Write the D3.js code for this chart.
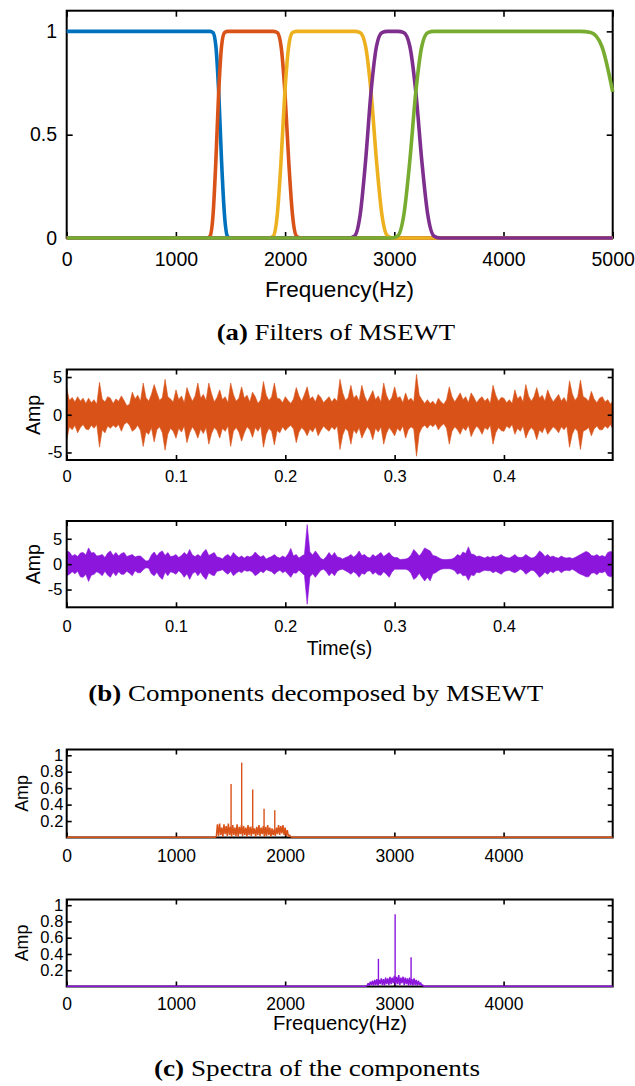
<!DOCTYPE html>
<html>
<head>
<meta charset="utf-8">
<script src="https://cdnjs.cloudflare.com/ajax/libs/d3/7.8.5/d3.min.js"></script>
<style>
body{margin:0;background:#fff;}
svg{display:block;}
.tick text{font-family:"Liberation Sans",Arial,Helvetica,sans-serif;fill:#000;}
.tick line{stroke:#000;stroke-width:1.6;}
.axlabel{font-family:"Liberation Sans",Arial,Helvetica,sans-serif;fill:#000;}
.caption{font-family:"Liberation Serif","Times New Roman",serif;fill:#000;}
</style>
</head>
<body>
<script>
//----- data -----

//tick values
var freqTicks = [0, 1000, 2000, 3000, 4000, 5000];
var filterYTicks = [0, 0.5, 1];
var timeTicks = [0, 0.1, 0.2, 0.3, 0.4];
var ampTicks = [-5, 0, 5];
var specYTicks = [0.2, 0.4, 0.6, 0.8, 1];

//filter colours (a)
var filterColors = ["#0072BD", "#D95319", "#EDB120", "#7E2F8E", "#77AC30"];

//filters of MSEWT, [frequency Hz, magnitude]
var filter1 = [[0,1],[1287,1],[1313,1],[1340,0.994],[1366,0.928],[1392,0.707],[1418,0.373],[1445,0.111],[1471,0.01],[1497,0],[5000,0]];
var filter2 = [[0,0],[1287,0],[1313,0.01],[1340,0.111],[1366,0.373],[1392,0.707],[1418,0.928],[1445,0.994],[1471,1],[1497,1],
               [1858,1],[1893,1],[1928,0.994],[1963,0.928],[1998,0.707],[2033,0.373],[2068,0.111],[2103,0.01],[2138,0],[5000,0]];
var filter3 = [[0,0],[1858,0],[1893,0.01],[1928,0.111],[1963,0.373],[1998,0.707],[2033,0.928],[2068,0.994],[2103,1],[2138,1],
               [2587,1],[2637,1],[2687,0.994],[2737,0.928],[2787,0.707],[2837,0.373],[2887,0.111],[2937,0.01],[2987,0],[5000,0]];
var filter4 = [[0,0],[2587,0],[2637,0.01],[2687,0.111],[2737,0.373],[2787,0.707],[2837,0.928],[2887,0.994],[2937,1],
               [2977,1],[3032,1],[3087,0.994],[3142,0.928],[3197,0.707],[3252,0.373],[3307,0.111],[3362,0.01],[3417,0],[5000,0]];
var filter5 = [[0,0],[2977,0],[3032,0.01],[3087,0.111],[3142,0.373],[3197,0.707],[3252,0.928],[3307,0.994],[3362,1],[3417,1],
               [4600,1],[4700,1],[4800,0.994],[4900,0.928],[5000,0.707]];

//components (b): upper / lower envelope, one value every 2.5 ms
var timeStep = 0.0025;
var comp1Upper = [3.5,1.9,2.3,1.7, 2.4,1.8,2.2,1.5, 2.2,1.6,2.0,1.4, 4.3,2.1,1.7,2.4, 2.2,1.5,2.1,1.8,
  2.5,1.9,1.2,1.4, 3.0,2.1,2.6,1.8, 4.2,2.3,1.8,2.7, 4.0,2.9,1.9,2.3, 4.7,2.4,2.1,1.7,
  3.3,2.0,2.5,1.6, 3.6,2.6,1.8,2.5, 4.2,2.2,2.7,1.9, 4.2,2.8,1.7,2.3, 3.3,2.0,2.4,1.6,
  4.2,2.7,1.8,2.2, 3.7,2.2,2.6,1.7, 3.0,2.4,1.5,2.0, 4.4,2.6,1.9,2.4, 4.2,2.2,2.1,1.6,
  2.4,1.9,1.5,2.1, 3.6,2.5,1.8,2.7, 3.7,2.1,2.4,1.7, 2.7,2.3,1.6,2.0, 2.4,1.7,2.2,1.8,
  4.7,2.9,1.9,2.3, 3.9,2.2,2.6,1.8, 3.9,2.5,1.7,2.4, 3.2,2.0,2.5,1.7, 4.2,2.6,1.8,2.3,
  3.7,2.2,2.4,1.6, 2.9,1.9,2.2,1.7, 5.35,2.6,2.0,1.5, 2.0,1.5,1.8,1.3, 2.2,1.7,1.4,2.0,
  3.7,2.4,1.7,2.3, 2.9,2.0,2.4,1.6, 2.9,2.3,1.6,2.1, 2.4,1.8,2.2,1.5, 3.9,2.6,1.8,2.3,
  2.2,1.6,2.0,1.5, 3.3,2.1,2.5,1.7, 4.0,2.5,1.8,2.4, 3.6,2.2,2.6,1.8, 3.3,2.4,1.7,2.2,
  2.7,1.8,2.3,1.6, 4.5,2.8,1.9,2.4, 4.6,2.4,2.2,1.8, 3.1,2.1,1.6,2.2, 2.4,1.7,2.0,1.4, 1.9];
var comp1Lower = [-3.3,-1.6,-2.0,-1.4, -2.4,-1.7,-1.3,-1.9, -2.0,-1.4,-1.8,-1.3, -4.3,-2.0,-2.4,-1.5, -1.8,-1.4,-1.7,-1.3,
  -2.2,-1.3,-1.0,-1.4, -2.2,-1.9,-1.4,-2.1, -4.2,-2.3,-2.6,-1.7, -3.6,-2.0,-1.6,-2.4, -4.7,-2.6,-1.8,-2.2,
  -3.1,-1.8,-2.3,-1.5, -3.7,-2.4,-1.6,-2.2, -3.1,-1.9,-2.5,-1.7, -3.9,-2.5,-1.7,-2.1, -3.1,-1.8,-2.2,-1.5,
  -4.2,-2.2,-1.7,-2.3, -3.5,-2.4,-1.6,-2.0, -3.0,-1.7,-2.2,-1.5, -4.3,-2.6,-1.8,-2.2, -4.0,-2.1,-2.4,-1.6,
  -2.1,-1.7,-1.4,-1.9, -3.7,-2.3,-1.7,-2.1, -2.8,-1.9,-2.3,-1.6, -2.8,-2.1,-1.5,-1.9, -2.2,-1.6,-2.0,-1.5,
  -4.6,-2.7,-1.8,-2.2, -3.9,-2.0,-2.5,-1.7, -3.1,-2.3,-1.6,-2.1, -3.3,-1.8,-2.3,-1.6, -3.9,-2.5,-1.7,-2.2,
  -2.8,-1.8,-2.2,-1.5, -3.1,-2.0,-1.6,-1.9, -5.5,-2.5,-1.7,-1.4, -1.8,-1.3,-1.6,-1.2, -2.0,-1.5,-1.2,-1.8,
  -3.9,-2.2,-1.6,-2.0, -2.6,-1.7,-2.1,-1.4, -2.9,-2.1,-1.5,-1.9, -2.6,-1.7,-2.0,-1.4, -3.9,-2.4,-1.7,-2.1,
  -2.2,-1.5,-1.8,-1.3, -2.6,-1.8,-2.2,-1.5, -3.1,-2.2,-1.7,-2.1, -3.3,-2.0,-2.4,-1.6, -2.6,-2.1,-1.6,-1.9,
  -2.4,-1.6,-2.0,-1.5, -4.3,-2.6,-1.8,-2.2, -4.6,-2.2,-2.0,-1.7, -2.8,-1.9,-1.5,-2.0, -2.0,-1.5,-1.8,-1.3, -2.0];
var comp2Upper = [2.6,2.4,1.6,1.9,1.5,2.2,2.3,1.8,3.2,2.2, 2.3,1.6,1.7,1.9,1.3,2.2,2.6,1.7,2.3,1.6,
  2.1,2.3,1.5,1.7,1.9,1.4,1.6,1.6,1.1,0.6, 0.7,1.8,2.4,1.6,2.3,2.6,1.7,2.3,1.5,1.6,
  1.9,1.3,1.7,2.3,1.8,2.9,1.8,1.5,1.9,1.5, 2.4,2.9,1.7,2.0,2.3,1.4,1.3,1.0,1.6,1.9,
  1.4,2.3,1.7,1.3,1.6,1.2,1.6,1.4,1.7,2.4, 1.8,1.4,1.7,1.0,1.3,1.5,1.9,1.4,1.2,1.6,
  1.3,2.0,3.1,1.6,1.9,1.2,1.6,1.9,7.8,2.4, 1.8,2.6,1.9,1.1,0.9,1.5,2.3,1.6,2.3,1.4,
  1.3,1.0,1.3,1.5,1.9,1.4,1.8,2.6,1.7,1.9, 1.4,1.2,1.9,1.5,1.9,2.3,1.5,1.9,2.3,1.6,
  1.3,1.3,0.9,0.95,1.0,1.2,1.8,2.9,2.3,1.6, 2.3,3.2,2.9,2.6,1.7,1.6,1.3,1.0,0.9,0.9,
  0.95,1.0,1.3,1.9,1.6,2.4,2.1,3.4,2.0,1.9, 1.5,1.6,1.4,1.2,1.5,1.3,1.6,1.4,1.6,1.9,
  1.5,1.3,1.2,1.5,1.9,1.4,1.3,1.4,1.9,1.5, 1.2,1.3,1.8,2.6,2.2,1.5,1.9,1.4,1.6,1.3,
  1.2,1.6,1.3,1.2,1.3,1.1,1.3,1.6,1.9,2.2, 2.5,2.3,1.7,1.6,1.9,1.5,1.7,1.4,2.3,2.5, 2.4];
var comp2Lower = [-2.3,-2.0,-1.5,-1.9,-1.4,-2.5,-2.6,-2.0,-3.4,-2.2, -2.0,-1.5,-1.8,-2.3,-1.4,-2.2,-2.6,-1.6,-2.3,-1.5,
  -2.0,-2.0,-1.4,-1.8,-2.3,-1.3,-1.7,-1.7,-1.1,-0.7, -0.8,-1.9,-2.3,-1.6,-2.5,-3.0,-1.6,-2.3,-1.5,-1.7,
  -2.0,-1.3,-1.8,-2.6,-1.9,-3.0,-1.9,-1.5,-2.3,-1.6, -2.5,-3.0,-1.7,-2.1,-2.3,-1.4,-1.3,-1.1,-1.6,-2.0,
  -1.4,-2.3,-1.8,-1.4,-1.7,-1.2,-1.4,-1.3,-1.6,-2.3, -1.9,-1.4,-1.7,-1.1,-1.3,-1.5,-2.0,-1.5,-1.2,-1.7,
  -1.4,-2.0,-2.6,-1.7,-1.8,-1.2,-1.7,-2.2,-7.9,-2.5, -1.9,-2.6,-1.9,-1.2,-1.0,-1.5,-2.3,-1.7,-2.3,-1.4,
  -1.1,-1.0,-1.3,-1.6,-2.0,-1.5,-1.9,-2.6,-1.8,-2.0, -1.4,-1.3,-2.0,-1.6,-2.1,-2.2,-1.5,-2.0,-2.6,-1.6,
  -1.0,-1.0,-1.0,-1.0,-1.0,-1.2,-1.8,-3.0,-2.6,-1.8, -2.6,-3.3,-2.6,-3.3,-1.9,-1.7,-1.3,-1.0,-0.9,-0.9,
  -0.9,-1.0,-1.3,-2.0,-1.7,-2.3,-2.2,-3.2,-2.1,-2.3, -1.6,-1.7,-1.4,-1.2,-1.3,-1.3,-1.7,-1.4,-1.7,-2.0,
  -1.5,-1.3,-1.2,-1.5,-1.7,-1.4,-1.0,-1.3,-2.0,-1.6, -1.2,-1.3,-1.9,-2.6,-2.2,-1.6,-2.0,-1.4,-1.7,-1.3,
  -1.2,-1.7,-1.3,-1.2,-1.3,-1.0,-1.3,-1.7,-2.0,-2.2, -2.5,-2.5,-1.8,-1.7,-2.1,-1.6,-1.7,-1.4,-2.3,-2.5, -2.4];

//spectra (c): band samples every 10 Hz plus the discrete lines
var freqStep = 10;
var spec1Start = 1360;
var spec1Band = [0.00,0.01,0.16,0.02,0.17,0.03,0.12,0.01,0.16,0.04, 0.14,0.02,0.17,0.03,0.13,0.01,0.15,0.03,0.12,0.02,
  0.16,0.01,0.13,0.04,0.15,0.02,0.14,0.03,0.12,0.01, 0.15,0.03,0.13,0.02,0.14,0.04,0.11,0.01,0.13,0.03,
  0.15,0.02,0.12,0.04,0.14,0.01,0.13,0.02,0.15,0.03, 0.12,0.01,0.11,0.03,0.10,0.02,0.12,0.04,0.15,0.03,
  0.14,0.05,0.15,0.03,0.12,0.02,0.09,0.01,0.03,0.01, 0.00];
var spec1PeakFreq = [1505, 1602, 1703, 1807, 1905];
var spec1PeakAmp = [0.65, 0.91, 0.585, 0.35, 0.33];
var spec2Start = 2740;
var spec2Band = [0.00,0.01,0.04,0.01,0.06,0.02,0.07,0.01,0.08,0.02, 0.09,0.01,0.08,0.03,0.10,0.02,0.09,0.01,0.11,0.03,
  0.10,0.02,0.12,0.03,0.11,0.04,0.13,0.02,0.12,0.03, 0.14,0.02,0.11,0.04,0.12,0.02,0.11,0.03,0.10,0.01,
  0.11,0.02,0.09,0.01,0.10,0.02,0.08,0.01,0.07,0.02, 0.05,0.01,0.02,0.00];
var spec2PeakFreq = [2854, 3007, 3153];
var spec2PeakAmp = [0.34, 0.89, 0.36];

var orange = "#D95319", violet = "#8C16DC";

//----- drawing -----
var width = 635, height = 1086;
var svg = d3.select("body").append("svg")
    .attr("width", width)
    .attr("height", height);

var left = 66.7, right = 612.7;

function fmt(d){ return String(d); }

//frame with inward ticks on all four sides
function addAxes(g, x, y, o){
    var x0 = x.range()[0], x1 = x.range()[1], y0 = y.range()[0], y1 = y.range()[1];
    g.append("g").attr("transform", "translate(0," + y0 + ")")
        .call(d3.axisBottom(x).tickValues(o.xTicks).tickFormat(fmt).tickSize(-o.tick).tickPadding(o.xPad))
        .call(function(s){ s.select(".domain").remove(); })
        .selectAll("text").style("font-size", o.font + "px");
    g.append("g").attr("transform", "translate(0," + y1 + ")")
        .call(d3.axisTop(x).tickValues(o.xTicks).tickFormat("").tickSize(-o.tick))
        .call(function(s){ s.select(".domain").remove(); });
    g.append("g").attr("transform", "translate(" + x0 + ",0)")
        .call(d3.axisLeft(y).tickValues(o.yTicks).tickFormat(fmt).tickSize(-o.tick).tickPadding(o.yPad))
        .call(function(s){ s.select(".domain").remove(); })
        .selectAll("text").style("font-size", (o.yFont || o.font) + "px");
    g.append("g").attr("transform", "translate(" + x1 + ",0)")
        .call(d3.axisRight(y).tickValues(o.yTicks).tickFormat("").tickSize(-o.tick))
        .call(function(s){ s.select(".domain").remove(); });
    g.append("rect")
        .attr("x", x0).attr("y", y1)
        .attr("width", x1 - x0).attr("height", y0 - y1)
        .attr("fill", "none").attr("stroke", "#000").attr("stroke-width", 2);
}

function clip(id, x, y){
    svg.append("clipPath").attr("id", id).append("rect")
        .attr("x", x.range()[0]).attr("y", y.range()[1] - 20)
        .attr("width", x.range()[1] - x.range()[0]).attr("height", y.range()[0] - y.range()[1] + 40);
}

function yLabel(text, xPos, yPos, size){
    svg.append("text").attr("class", "axlabel")
        .attr("transform", "translate(" + xPos + "," + yPos + ") rotate(-90)")
        .attr("text-anchor", "middle")
        .style("font-size", size + "px")
        .text(text);
}

function xLabel(text, xPos, yPos, size){
    svg.append("text").attr("class", "axlabel")
        .attr("x", xPos).attr("y", yPos)
        .attr("text-anchor", "middle")
        .style("font-size", size + "px")
        .text(text);
}

function caption(tag, rest, x0, yPos, len){
    var t = svg.append("text").attr("class", "caption")
        .attr("x", x0).attr("y", yPos)
        .attr("textLength", len).attr("lengthAdjust", "spacingAndGlyphs")
        .style("font-size", "24px");
    t.append("tspan").style("font-weight", "bold").text(tag);
    t.append("tspan").text(rest);
}

//(a) filters
var xA = d3.scaleLinear().domain([0, 5000]).range([left, right]);
var yA = d3.scaleLinear().domain([0, 1.1]).range([238, 10.7]);
var gA = svg.append("g");
addAxes(gA, xA, yA, {xTicks: freqTicks, yTicks: filterYTicks, tick: 6, xPad: 14, yPad: 9.7, font: 19.5});
var filterLine = d3.line()
    .x(function(d){ return xA(d[0]); })
    .y(function(d){ return yA(d[1]); })
    .curve(d3.curveMonotoneX);
gA.selectAll(".filter")
    .data([filter1, filter2, filter3, filter4, filter5])
    .enter()
    .append("path")
    .attr("class", "filter")
    .attr("d", filterLine)
    .attr("fill", "none")
    .attr("stroke", function(d, i){ return filterColors[i]; })
    .attr("stroke-width", 3.6)
    .attr("stroke-linejoin", "round");
xLabel("Frequency(Hz)", 339.5, 297, 22.5);
caption("(a)", " Filters of MSEWT", 216.7, 339.5, 238.5);

//(b) components
function drawComponent(upper, lower, top, bottom, domain, color, id){
    var x = d3.scaleLinear().domain([0, 0.4995]).range([left, right]);
    var y = d3.scaleLinear().domain(domain).range([bottom, top]);
    clip(id, x, y);
    var g = svg.append("g");
    var area = d3.area()
        .x(function(d, i){ return x(i * timeStep); })
        .y0(function(d, i){ return y(lower[i]); })
        .y1(function(d){ return y(d); });
    g.append("path")
        .datum(upper)
        .attr("clip-path", "url(#" + id + ")")
        .attr("d", area)
        .attr("fill", color)
        .attr("stroke", color)
        .attr("stroke-width", 0.6);
    return {g: g, x: x, y: y};
}
var b1 = drawComponent(comp1Upper, comp1Lower, 369.5, 460, [-6, 6], orange, "clipB1");
addAxes(b1.g, b1.x, b1.y, {xTicks: timeTicks, yTicks: ampTicks, tick: 5, xPad: 10, yPad: 4.4, font: 16.5});
yLabel("Amp", 39.5, 415, 19.5);

var b2 = drawComponent(comp2Upper, comp2Lower, 521, 607.3, [-8.5, 8.5], violet, "clipB2");
addAxes(b2.g, b2.x, b2.y, {xTicks: timeTicks, yTicks: ampTicks, tick: 5, xPad: 12.5, yPad: 4.4, font: 16.5});
yLabel("Amp", 39.5, 564.2, 19.5);
xLabel("Time(s)", 339.5, 655, 19.5);
caption("(b)", " Components decomposed by MSEWT", 88.3, 700.7, 455);

//(c) spectra
function drawSpectrum(band, start, peakF, peakA, top, bottom, color, xPad){
    var x = d3.scaleLinear().domain([0, 4999]).range([left, right]);
    var y = d3.scaleLinear().domain([0, 1.07]).range([bottom, top]);
    var g = svg.append("g");
    addAxes(g, x, y, {xTicks: freqTicks.slice(0, 5), yTicks: specYTicks, tick: 5, xPad: xPad, yPad: 3.4, font: 17.5, yFont: 16.5});
    var pts = [[0, 0.004], [start, 0.004]];
    band.forEach(function(v, i){ pts.push([start + i * freqStep, Math.max(v, 0.004)]); });
    pts.push([start + (band.length - 1) * freqStep, 0.004], [4999, 0.004]);
    var line = d3.line()
        .x(function(d){ return x(d[0]); })
        .y(function(d){ return y(d[1]); });
    g.append("path")
        .datum(pts)
        .attr("d", line)
        .attr("fill", "none")
        .attr("stroke", color)
        .attr("stroke-width", 1.5)
        .attr("stroke-linejoin", "bevel");
    g.selectAll(".peak")
        .data(peakF)
        .enter()
        .append("line")
        .attr("class", "peak")
        .attr("x1", function(d){ return x(d); })
        .attr("x2", function(d){ return x(d); })
        .attr("y1", y(0.05))
        .attr("y2", function(d, i){ return y(peakA[i]); })
        .attr("stroke", color)
        .attr("stroke-width", 1.4);
}
drawSpectrum(spec1Band, spec1Start, spec1PeakFreq, spec1PeakAmp, 749.5, 837.5, orange, 12.5);
yLabel("Amp", 28, 793.5, 17.8);
drawSpectrum(spec2Band, spec2Start, spec2PeakFreq, spec2PeakAmp, 899.5, 986.5, violet, 11.5);
yLabel("Amp", 28, 943, 17.8);
xLabel("Frequency(Hz)", 340, 1030, 20.3);
caption("(c)", " Spectra of the components", 154, 1076, 326);
</script>
</body>
</html>
